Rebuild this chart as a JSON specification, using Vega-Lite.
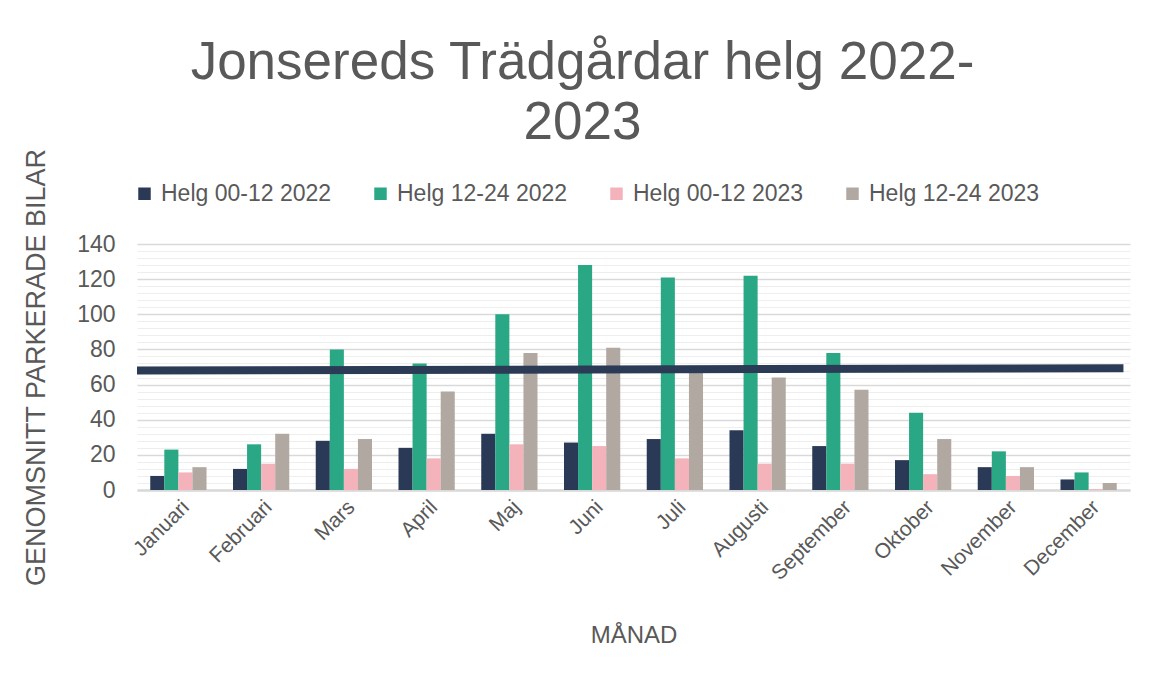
{
  "$schema": "https://vega.github.io/schema/vega-lite/v6.json",
  "width": 993,
  "height": 246,
  "autosize": {"type": "none"},
  "padding": {"left": 137, "top": 244, "right": 19, "bottom": 185},
  "background": "white",
  "config": {"font": "Liberation Sans", "view": {"stroke": null}},
  "title": {
    "text": ["Jonsereds Trädgårdar helg 2022-", "2023"],
    "fontSize": 53,
    "fontWeight": "normal",
    "color": "#595959",
    "lineHeight": 60,
    "anchor": "middle",
    "frame": "group",
    "dx": -51,
    "dy": 2,
    "offset": 0
  },
  "datasets": {
    "bars": [
      {"month": "Januari", "series": "Helg 00-12 2022", "value": 8},
      {"month": "Januari", "series": "Helg 12-24 2022", "value": 23},
      {"month": "Januari", "series": "Helg 00-12 2023", "value": 10},
      {"month": "Januari", "series": "Helg 12-24 2023", "value": 13},
      {"month": "Februari", "series": "Helg 00-12 2022", "value": 12},
      {"month": "Februari", "series": "Helg 12-24 2022", "value": 26},
      {"month": "Februari", "series": "Helg 00-12 2023", "value": 15},
      {"month": "Februari", "series": "Helg 12-24 2023", "value": 32},
      {"month": "Mars", "series": "Helg 00-12 2022", "value": 28},
      {"month": "Mars", "series": "Helg 12-24 2022", "value": 80},
      {"month": "Mars", "series": "Helg 00-12 2023", "value": 12},
      {"month": "Mars", "series": "Helg 12-24 2023", "value": 29},
      {"month": "April", "series": "Helg 00-12 2022", "value": 24},
      {"month": "April", "series": "Helg 12-24 2022", "value": 72},
      {"month": "April", "series": "Helg 00-12 2023", "value": 18},
      {"month": "April", "series": "Helg 12-24 2023", "value": 56},
      {"month": "Maj", "series": "Helg 00-12 2022", "value": 32},
      {"month": "Maj", "series": "Helg 12-24 2022", "value": 100},
      {"month": "Maj", "series": "Helg 00-12 2023", "value": 26},
      {"month": "Maj", "series": "Helg 12-24 2023", "value": 78},
      {"month": "Juni", "series": "Helg 00-12 2022", "value": 27},
      {"month": "Juni", "series": "Helg 12-24 2022", "value": 128},
      {"month": "Juni", "series": "Helg 00-12 2023", "value": 25},
      {"month": "Juni", "series": "Helg 12-24 2023", "value": 81},
      {"month": "Juli", "series": "Helg 00-12 2022", "value": 29},
      {"month": "Juli", "series": "Helg 12-24 2022", "value": 121},
      {"month": "Juli", "series": "Helg 00-12 2023", "value": 18},
      {"month": "Juli", "series": "Helg 12-24 2023", "value": 67},
      {"month": "Augusti", "series": "Helg 00-12 2022", "value": 34},
      {"month": "Augusti", "series": "Helg 12-24 2022", "value": 122},
      {"month": "Augusti", "series": "Helg 00-12 2023", "value": 15},
      {"month": "Augusti", "series": "Helg 12-24 2023", "value": 64},
      {"month": "September", "series": "Helg 00-12 2022", "value": 25},
      {"month": "September", "series": "Helg 12-24 2022", "value": 78},
      {"month": "September", "series": "Helg 00-12 2023", "value": 15},
      {"month": "September", "series": "Helg 12-24 2023", "value": 57},
      {"month": "Oktober", "series": "Helg 00-12 2022", "value": 17},
      {"month": "Oktober", "series": "Helg 12-24 2022", "value": 44},
      {"month": "Oktober", "series": "Helg 00-12 2023", "value": 9},
      {"month": "Oktober", "series": "Helg 12-24 2023", "value": 29},
      {"month": "November", "series": "Helg 00-12 2022", "value": 13},
      {"month": "November", "series": "Helg 12-24 2022", "value": 22},
      {"month": "November", "series": "Helg 00-12 2023", "value": 8},
      {"month": "November", "series": "Helg 12-24 2023", "value": 13},
      {"month": "December", "series": "Helg 00-12 2022", "value": 6},
      {"month": "December", "series": "Helg 12-24 2022", "value": 10},
      {"month": "December", "series": "Helg 00-12 2023", "value": 0.5},
      {"month": "December", "series": "Helg 12-24 2023", "value": 4}
    ],
    "avg": [
      {"pos": 0, "avg": 68},
      {"pos": 12, "avg": 69.3}
    ]
  },
  "layer": [
    {
      "data": {"name": "bars"},
      "mark": {"type": "bar"},
      "encoding": {
        "x": {
          "field": "month",
          "type": "nominal",
          "sort": ["Januari", "Februari", "Mars", "April", "Maj", "Juni", "Juli", "Augusti", "September", "Oktober", "November", "December"],
          "scale": {"paddingInner": 0.32, "paddingOuter": 0.16},
          "axis": {
            "title": "MÅNAD",
            "titleFontSize": 24,
            "titleFontWeight": "normal",
            "titleColor": "#595959",
            "titlePadding": 40,
            "labelAngle": -45,
            "labelFontSize": 21,
            "labelColor": "#595959",
            "labelPadding": 6,
            "ticks": false,
            "domainColor": "#d9d9d9",
            "domainWidth": 2.5
          }
        },
        "xOffset": {
          "field": "series",
          "sort": ["Helg 00-12 2022", "Helg 12-24 2022", "Helg 00-12 2023", "Helg 12-24 2023"]
        },
        "y": {
          "field": "value",
          "type": "quantitative",
          "scale": {"domain": [0, 140]},
          "axis": {
            "values": [0, 20, 40, 60, 80, 100, 120, 140],
            "title": "GENOMSNITT PARKERADE BILAR",
            "titleFontSize": 27,
            "titleFontWeight": "normal",
            "titleColor": "#595959",
            "titlePadding": 26,
            "labelFontSize": 23,
            "labelColor": "#595959",
            "labelPadding": 22,
            "ticks": false,
            "domain": false,
            "gridColor": "#d9d9d9",
            "gridWidth": 1.5
          }
        },
        "color": {
          "field": "series",
          "type": "nominal",
          "sort": ["Helg 00-12 2022", "Helg 12-24 2022", "Helg 00-12 2023", "Helg 12-24 2023"],
          "scale": {
            "domain": ["Helg 00-12 2022", "Helg 12-24 2022", "Helg 00-12 2023", "Helg 12-24 2023"],
            "range": ["#2A3A56", "#2AA784", "#F4B2BA", "#B1A8A2"]
          },
          "legend": {
            "orient": "none",
            "legendX": -4,
            "legendY": -62,
            "direction": "horizontal",
            "title": null,
            "symbolType": "square",
            "symbolSize": 156,
            "symbolStrokeWidth": 0,
            "labelFontSize": 23,
            "labelLimit": 0,
            "labelColor": "#595959",
            "labelOffset": 5,
            "columnPadding": 37,
            "padding": 0
          }
        }
      }
    },
    {
      "data": {"name": "avg"},
      "mark": {"type": "line", "color": "#2B3A55", "strokeWidth": 8, "strokeCap": "butt"},
      "encoding": {
        "x": {"field": "pos", "type": "quantitative", "scale": {"domain": [0, 12.08]}, "axis": null},
        "y": {
          "field": "avg",
          "type": "quantitative",
          "scale": {"domain": [0, 140]},
          "axis": {
            "orient": "right",
            "values": [4, 8, 12, 16, 24, 28, 32, 36, 44, 48, 52, 56, 64, 68, 72, 76, 84, 88, 92, 96, 104, 108, 112, 116, 124, 128, 132, 136],
            "labels": false,
            "ticks": false,
            "domain": false,
            "grid": true,
            "gridColor": "#eeeeee",
            "gridWidth": 1,
            "title": null
          }
        }
      }
    }
  ],
  "resolve": {"scale": {"x": "independent", "y": "independent"}}
}
